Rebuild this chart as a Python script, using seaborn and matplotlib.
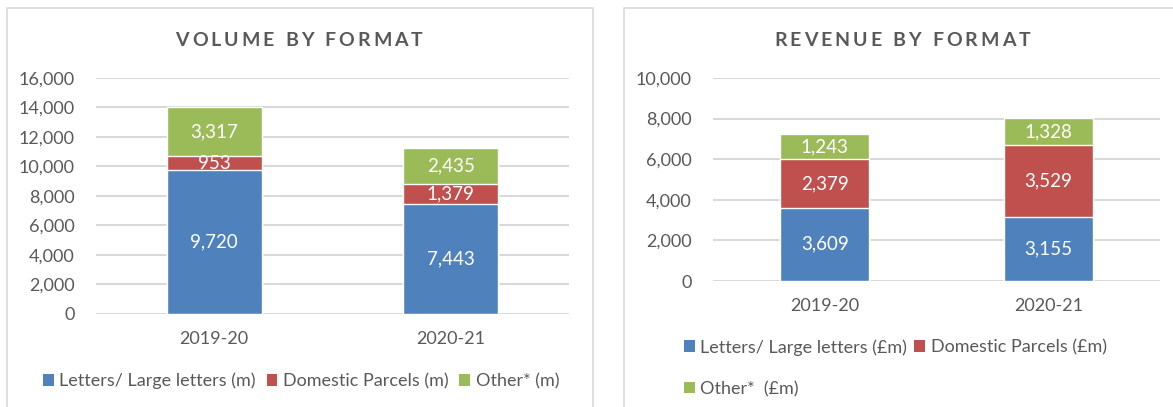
import pandas as pd
import seaborn as sns
from matplotlib import pyplot as plt
from matplotlib.patches import Patch, Rectangle
from matplotlib.ticker import FuncFormatter


# Chart data
years = ["2019-20", "2020-21"]
formats = ["Letters/ Large letters", "Domestic Parcels", "Other*"]
volume_letters = [9720, 7443]
volume_parcels = [953, 1379]
volume_other = [3317, 2435]
revenue_letters = [3609, 3155]
revenue_parcels = [2379, 3529]
revenue_other = [1243, 1328]

volume_legend = ["Letters/ Large letters (m)", "Domestic Parcels (m)", "Other* (m)"]
revenue_legend = ["Letters/ Large letters (£m)", "Domestic Parcels (£m)", "Other*  (£m)"]

colors = ["#4F81BD", "#C0504D", "#9BBB59"]
grey = "#595959"
grid = "#D9D9D9"

W, H = 1173, 407

sns.set_style("white")
plt.rcParams["font.family"] = ["Lato", "DejaVu Sans"]


def long_table(letters, parcels, other):
    rows = []
    for i, y in enumerate(years):
        for f, v in zip(formats, [letters[i], parcels[i], other[i]]):
            rows.append({"Year": y, "Format": f, "Value": v})
    df = pd.DataFrame(rows)
    # cumulative top of each segment, for stacking
    df["Top"] = df.groupby("Year")["Value"].cumsum()
    df["Bottom"] = df["Top"] - df["Value"]
    return df


def stacked(ax, df, ymax):
    # draw from the tallest (total) down so lower segments cover the rest
    for f, c in reversed(list(zip(formats, colors))):
        sub = df[df.Format == f]
        sns.barplot(data=sub, x="Year", y="Top", color=c, width=0.4,
                    saturation=1, ax=ax, zorder=3, order=years)
    for _, r in df.iterrows():
        ax.text(years.index(r.Year), (r.Top + r.Bottom) / 2, f"{r.Value:,}",
                ha="center", va="center", color="white", fontsize=13.5, zorder=4)
    ax.set_xlim(-0.5, 1.5)
    ax.set_ylim(0, ymax)
    ax.set_yticks(range(0, ymax + 1, 2000))
    ax.yaxis.set_major_formatter(FuncFormatter(lambda v, p: f"{int(v):,}"))
    ax.grid(axis="y", color=grid, linewidth=1.5, zorder=0)
    ax.set_axisbelow(True)
    sns.despine(ax=ax, left=True, bottom=True, top=True, right=True)
    ax.tick_params(axis="y", length=0, pad=15.5, labelsize=13, labelcolor=grey)
    ax.tick_params(axis="x", length=0, pad=12, labelsize=13, labelcolor=grey)
    ax.set_xlabel("")
    ax.set_ylabel("")
    ax.set_facecolor("none")


def spaced_title(fig, xc, yc, s, gap):
    r = fig.canvas.get_renderer()
    items = []
    for ch in s:
        t = fig.text(0, 1 - yc / H, ch if ch != " " else "", fontsize=14,
                     fontweight="bold", color=grey, va="center", ha="left")
        w = t.get_window_extent(r).width if ch != " " else 5
        items.append((t, w))
    total = sum(w for _, w in items) + gap * (len(items) - 1)
    x = xc - total / 2
    for t, w in items:
        t.set_x(x / W)
        x += w + gap


fig = plt.figure(figsize=(W / 100, H / 100), dpi=100)

# panel frames
for x0, x1 in [(7, 593), (624, 1185)]:
    fig.patches.append(Rectangle((x0 / W, -0.1), (x1 - x0) / W, 1.1 - 8 / H,
                                 transform=fig.transFigure, fill=False,
                                 edgecolor=grid, linewidth=1.2))

ax1 = fig.add_axes([96 / W, (H - 314) / H, 473 / W, (314 - 77.7) / H])
ax2 = fig.add_axes([713 / W, (H - 281) / H, 447 / W, (281 - 78) / H])

stacked(ax1, long_table(volume_letters, volume_parcels, volume_other), 16000)
stacked(ax2, long_table(revenue_letters, revenue_parcels, revenue_other), 10000)

spaced_title(fig, 299, 40, "VOLUME BY FORMAT", 3.0)
spaced_title(fig, 902, 40, "REVENUE BY FORMAT", 3.0)

handles1 = [Patch(facecolor=c, edgecolor="none") for c in colors]
fig.legend(handles1, volume_legend, loc="center", bbox_to_anchor=(301 / W, 1 - 381 / H),
           ncol=3, frameon=False, fontsize=13, labelcolor=grey, handlelength=0.6,
           handleheight=0.6, handletextpad=0.3, columnspacing=0.6)

order = [0, 2, 1]
fig.legend([handles1[i] for i in order], [revenue_legend[i] for i in order],
           loc="upper left", bbox_to_anchor=(684 / W, 1 - 339 / H),
           ncol=2, frameon=False, fontsize=13, labelcolor=grey, handlelength=0.6,
           handleheight=0.6, handletextpad=0.3, columnspacing=0.4, labelspacing=1.4,
           borderaxespad=0, borderpad=0)

fig.savefig("out.png", dpi=100)
